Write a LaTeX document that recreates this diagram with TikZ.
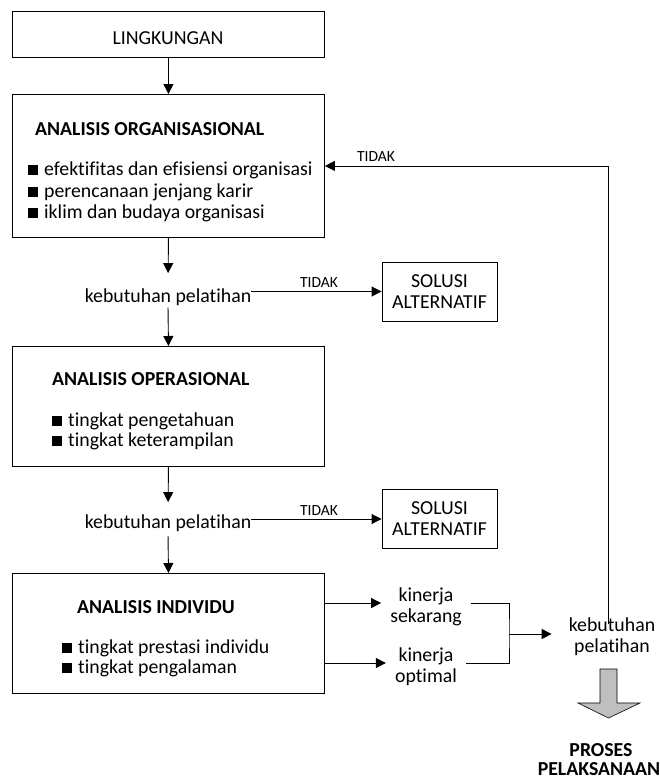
\documentclass[tikz,border=0pt]{standalone}
\usepackage{fontspec}
\setmainfont{Carlito}[Ligatures=NoCommon]
\usetikzlibrary{arrows.meta}
\newcommand{\blt}{\rule{10pt}{10pt}\hspace{6pt}}
\begin{document}
\begin{tikzpicture}[x=1pt,y=-1pt,
  every node/.style={font=\fontsize{19.8}{21}\selectfont, inner sep=0pt},
  box/.style={draw, line width=0.9pt, minimum width=312pt, anchor=north west},
  solbox/.style={draw, line width=0.9pt, minimum width=115pt, minimum height=59pt, align=center},
  lbl/.style={font=\fontsize{15.5}{18}\selectfont},
  ttl/.style={anchor=base west, font=\fontsize{19.8}{21}\selectfont\bfseries},
  txt/.style={anchor=base west},
  two/.style={align=center},
  line/.style={line width=0.9pt},
  arr/.style={line width=0.9pt, -{Triangle[length=10pt,width=10pt]}}
]
\useasboundingbox (0,0) rectangle (660,780);

% LINGKUNGAN
\node[box, minimum height=46pt] (ling) at (12,11) {};
\node[anchor=base] (lingt) at (168,44) {LINGKUNGAN};

% Analisis organisasional
\node[box, minimum height=143pt] (ao) at (12,94) {};
\node[ttl] (aot) at (35,135) {ANALISIS ORGANISASIONAL};
\node[txt] (aob1) at (28,175) {\blt efektifitas dan efisiensi organisasi};
\node[txt] (aob2) at (28,197) {\blt perencanaan jenjang karir};
\node[txt] (aob3) at (28,218) {\blt iklim dan budaya organisasi};

% kebutuhan 1
\node[anchor=base] (kp1) at (168,302) {kebutuhan pelatihan};
\node[solbox] (sol1) at (439.5,291.5) {SOLUSI\\ALTERNATIF};
\node[lbl] (t1) at (319,283) {TIDAK};

% Analisis operasional
\node[box, minimum height=120pt] (aop) at (12,346) {};
\node[ttl] (aopt) at (52,385) {ANALISIS OPERASIONAL};
\node[txt] (aopb1) at (52,426) {\blt tingkat pengetahuan};
\node[txt] (aopb2) at (52,446) {\blt tingkat keterampilan};

% kebutuhan 2
\node[anchor=base] (kp2) at (168,528) {kebutuhan pelatihan};
\node[solbox] (sol2) at (439.5,519) {SOLUSI\\ALTERNATIF};
\node[lbl] (t2) at (319,511) {TIDAK};

% Analisis individu
\node[box, minimum height=120pt] (ai) at (12,573) {};
\node[ttl] (ait) at (77,613) {ANALISIS INDIVIDU};
\node[txt] (aib1) at (62,653) {\blt tingkat prestasi individu};
\node[txt] (aib2) at (62,673) {\blt tingkat pengalaman};

% right side
\node[two, inner xsep=9pt] (ks) at (426,607) {kinerja\\sekarang};
\node[two, inner xsep=9pt] (ko) at (426,667) {kinerja\\optimal};
\coordinate (brk) at (509,634);
\node[two] (kp3) at (612,637) {kebutuhan\\pelatihan};
\node[lbl] (t3) at (376,157) {TIDAK};

% connectors
\draw[arr] (ling.south) -- (ao.north);
\draw[arr, shorten >=15pt] (ao.south) -- (kp1.north);
\draw[arr, shorten <=2pt] (kp1.south) -- (aop.north);
\draw[arr] (sol1.west -| kp1.east) -- (sol1.west);
\draw[arr, shorten >=12pt] (aop.south) -- (kp2.north);
\draw[arr, shorten <=5pt] (kp2.south) -- (ai.north);
\draw[arr] (sol2.west -| kp2.east) -- (sol2.west);
\draw[arr] ([yshift=4pt]ks.west -| ai.east) -- ([yshift=4pt]ks.west);
\draw[arr] ([yshift=4pt]ko.west -| ai.east) -- ([yshift=4pt]ko.west);
\draw[line] ([yshift=4pt]ks.east) -| (brk) |- ([yshift=4pt]ko.east);
\draw[arr, shorten >=17pt] (brk) -- (kp3.west |- brk);
\draw[arr, shorten <=-6pt] ([xshift=-4pt]kp3.north) |- (ao.east);

% block arrow
\draw[fill=black!25, line width=0.6pt] (600,669) -- (617,669) -- (617,703) -- (640,703) -- (608.5,718) -- (578,703) -- (600,703) -- cycle;
\node[anchor=base, font=\fontsize{19.8}{21}\selectfont\bfseries] (pr1) at (601,756) {PROSES};
\node[anchor=base, font=\fontsize{19.8}{21}\selectfont\bfseries] (pr2) at (599,775) {PELAKSANAAN};
\end{tikzpicture}
\end{document}
